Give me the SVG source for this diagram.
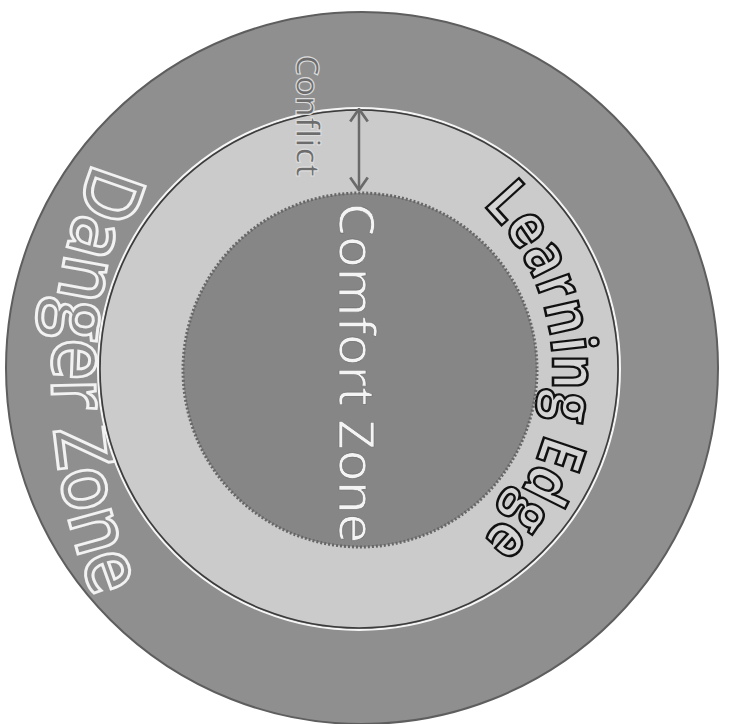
<svg xmlns="http://www.w3.org/2000/svg" width="729" height="724" viewBox="0 0 729 724">
  <style>
    .lbl { font-family: "Open Sans", "Liberation Sans", sans-serif; }
    .danger { font-size: 80px; font-weight: 600; fill: #8e8e8e; stroke: #f2f2f2; stroke-width: 3; }
    .learn { font-size: 62px; font-weight: 700; fill: #d6d6d6; stroke: #111111; stroke-width: 2.6; }
    .comfort { font-size: 50px; fill: #f4f4f4; stroke: #707070; stroke-width: 0.6; }
    .conflict { font-size: 33px; font-weight: 600; fill: #6c6c6c; stroke: #dcdcdc; stroke-width: 1.2; }
    .conn { stroke: #6a6a6a; stroke-width: 2.5; fill: none; }
  </style>
  <defs>
    <marker id="vhead" viewBox="0 0 12 16" refX="11" refY="8" markerWidth="6" markerHeight="8" orient="auto-start-reverse" markerUnits="strokeWidth">
      <path d="M1,1 L11,8 L1,15" fill="none" stroke="#6a6a6a" stroke-width="2.2"/>
    </marker>
    <path id="dangerPath" d="M101,145 A588,588 0 0 0 101,615"/>
    <path id="learnPath" d="M469.4,192.7 A234,234 0 0 1 469.4,551.3"/>
  </defs>
  <rect width="729" height="724" fill="#ffffff"/>

  <g id="danger-zone">
    <circle cx="362" cy="368" r="356" fill="#8f8f8f" stroke="#5e5e5e" stroke-width="2"/>
    <text class="lbl danger"><textPath href="#dangerPath" startOffset="50%" text-anchor="middle" textLength="448" lengthAdjust="spacingAndGlyphs">Danger Zone</textPath></text>
  </g>

  <g id="learning-edge">
    <circle cx="359" cy="369" r="261" fill="none" stroke="#f5f5f5" stroke-width="2"/>
    <circle cx="359" cy="369" r="259" fill="#cbcbcb" stroke="#3c3c3c" stroke-width="1.6"/>
    <text class="lbl learn"><textPath href="#learnPath" startOffset="50%" text-anchor="middle" textLength="373" lengthAdjust="spacingAndGlyphs">Learning Edge</textPath></text>
  </g>

  <g id="comfort-zone">
    <circle cx="360" cy="370" r="177" fill="#868686" stroke="#666666" stroke-width="3" stroke-dasharray="2 2"/>
    <text class="lbl comfort" transform="translate(339,203) rotate(90)" textLength="340" lengthAdjust="spacingAndGlyphs">Comfort Zone</text>
  </g>

  <g id="conflict-label">
    <text class="lbl conflict" transform="translate(296,55) rotate(90)" textLength="122" lengthAdjust="spacingAndGlyphs">Conflict</text>
  </g>

  <g id="connectors">
    <line class="conn" x1="359" y1="109" x2="359" y2="190" marker-start="url(#vhead)" marker-end="url(#vhead)"/>
  </g>
</svg>
